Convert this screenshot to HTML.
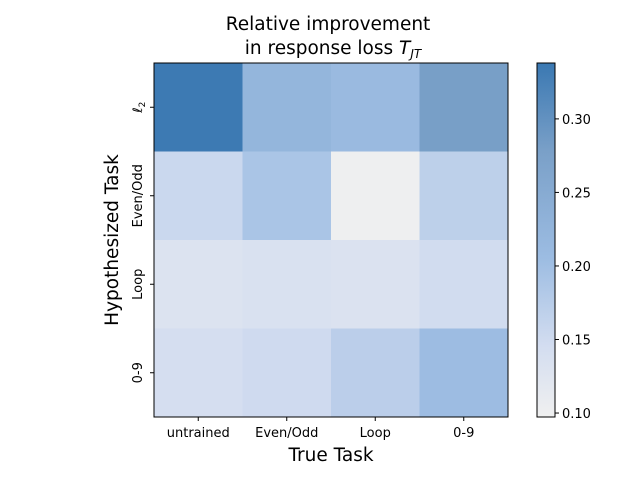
<!DOCTYPE html>
<html><head><meta charset="utf-8">
<style>
body{margin:0;background:#fff;}
svg text{font-family:"DejaVu Sans","Liberation Sans",sans-serif;fill:#000;}
</style></head>
<body>
<svg id="chart" width="640" height="480" viewBox="0 0 640 480" xmlns="http://www.w3.org/2000/svg">
<defs>
<linearGradient id="cbgrad" x1="0" y1="1" x2="0" y2="0">
<stop offset="0" stop-color="#f0f0f0"/>
<stop offset="0.2" stop-color="#d3ddf0"/>
<stop offset="0.45" stop-color="#9cbce2"/>
<stop offset="0.75" stop-color="#7aa0c8"/>
<stop offset="1" stop-color="#3a78b2"/>
</linearGradient>
</defs>
<text x="328" y="30" font-size="18.5" text-anchor="middle">Relative improvement</text>
<text x="333" y="54" font-size="18.5" text-anchor="middle">in response loss <tspan font-style="italic">T</tspan><tspan font-style="italic" font-size="12" dy="4">JT</tspan></text>
<g id="cells"></g>
<g id="axes"></g>
<text x="331" y="461" font-size="18.5" text-anchor="middle">True Task</text>
<text transform="translate(118,240) rotate(-90)" font-size="18.5" text-anchor="middle">Hypothesized Task</text>
<rect x="537" y="63" width="18" height="354" fill="url(#cbgrad)" stroke="#000" stroke-width="1"/>
<g id="cbticks"></g>
</svg>
<script>
const xCategories = ["untrained","Even/Odd","Loop","0-9"];
const yCategories = ["ℓ2","Even/Odd","Loop","0-9"];
const valuesL2 = [0.335,0.222,0.210,0.280];
const valuesEvenOdd = [0.155,0.190,0.100,0.170];
const valuesLoop = [0.130,0.135,0.132,0.148];
const values09 = [0.142,0.150,0.172,0.205];
const colorbarTicks = [0.10,0.15,0.20,0.25,0.30];
const vmin = 0.0973, vmax = 0.338;

const rows=[valuesL2,valuesEvenOdd,valuesLoop,values09];
const NS="http://www.w3.org/2000/svg";
const X0=154,X1=508,Y0=63,Y1=417;
const cw=(X1-X0)/xCategories.length, ch=(Y1-Y0)/yCategories.length;
const xPos=i=>X0+i*cw, yPos=j=>Y0+j*ch;
const cbY=v=>Y1-(v-vmin)/(vmax-vmin)*(Y1-Y0);
const stops=[[0,[240,240,240]],[0.2,[211,221,240]],[0.45,[156,188,226]],[0.75,[122,160,200]],[1,[58,120,178]]];
function color(v){let t=Math.max(0,Math.min(1,(v-vmin)/(vmax-vmin)));
 for(let k=1;k<stops.length;k++){if(t<=stops[k][0]){const a=stops[k-1],b=stops[k];const f=(t-a[0])/(b[0]-a[0]);
 const c=a[1].map((x,i)=>Math.round(x+(b[1][i]-x)*f));return `rgb(${c})`;}}return "rgb(58,120,178)";}
function mk(tag,attrs,parent){const e=document.createElementNS(NS,tag);for(const k in attrs)e.setAttribute(k,attrs[k]);parent.appendChild(e);return e;}
const cells=document.getElementById('cells');
rows.forEach((r,j)=>r.forEach((v,i)=>{
 const e=mk('rect',{x:xPos(i),y:yPos(j),width:cw+0.5,height:ch+0.5,fill:color(v)},cells);
 
 
}));
const axes=document.getElementById('axes');
const fr=mk('rect',{x:X0,y:Y0,width:X1-X0,height:Y1-Y0,fill:'none',stroke:'#000','stroke-width':1},axes);


xCategories.forEach((c,i)=>{const x=xPos(i)+cw/2;
 mk('line',{x1:x,y1:Y1,x2:x,y2:Y1+4,stroke:'#000'},axes);
 const t=mk('text',{x:x,y:Y1+20,'font-size':13,'text-anchor':'middle'},axes);t.textContent=c;
 
 
});
yCategories.forEach((c,j)=>{const y=yPos(j)+ch/2;
 mk('line',{x1:X0-4,y1:y,x2:X0,y2:y,stroke:'#000'},axes);
 const t=mk('text',{transform:`translate(${X0-12},${y}) rotate(-90)`,'font-size':13,'text-anchor':'middle'},axes);
 if(c==="ℓ2"){t.innerHTML='<tspan font-style="italic">ℓ</tspan><tspan font-size="9" dy="3">2</tspan>';}else t.textContent=c;
 
 
});
const cbt=document.getElementById('cbticks');
colorbarTicks.forEach(v=>{const y=cbY(v);
 mk('line',{x1:555,y1:y,x2:559,y2:y,stroke:'#000'},cbt);
 const t=mk('text',{x:562,y:y+5,'font-size':13},cbt);t.textContent=v.toFixed(2);
 
 
});
</script>
</body></html>
